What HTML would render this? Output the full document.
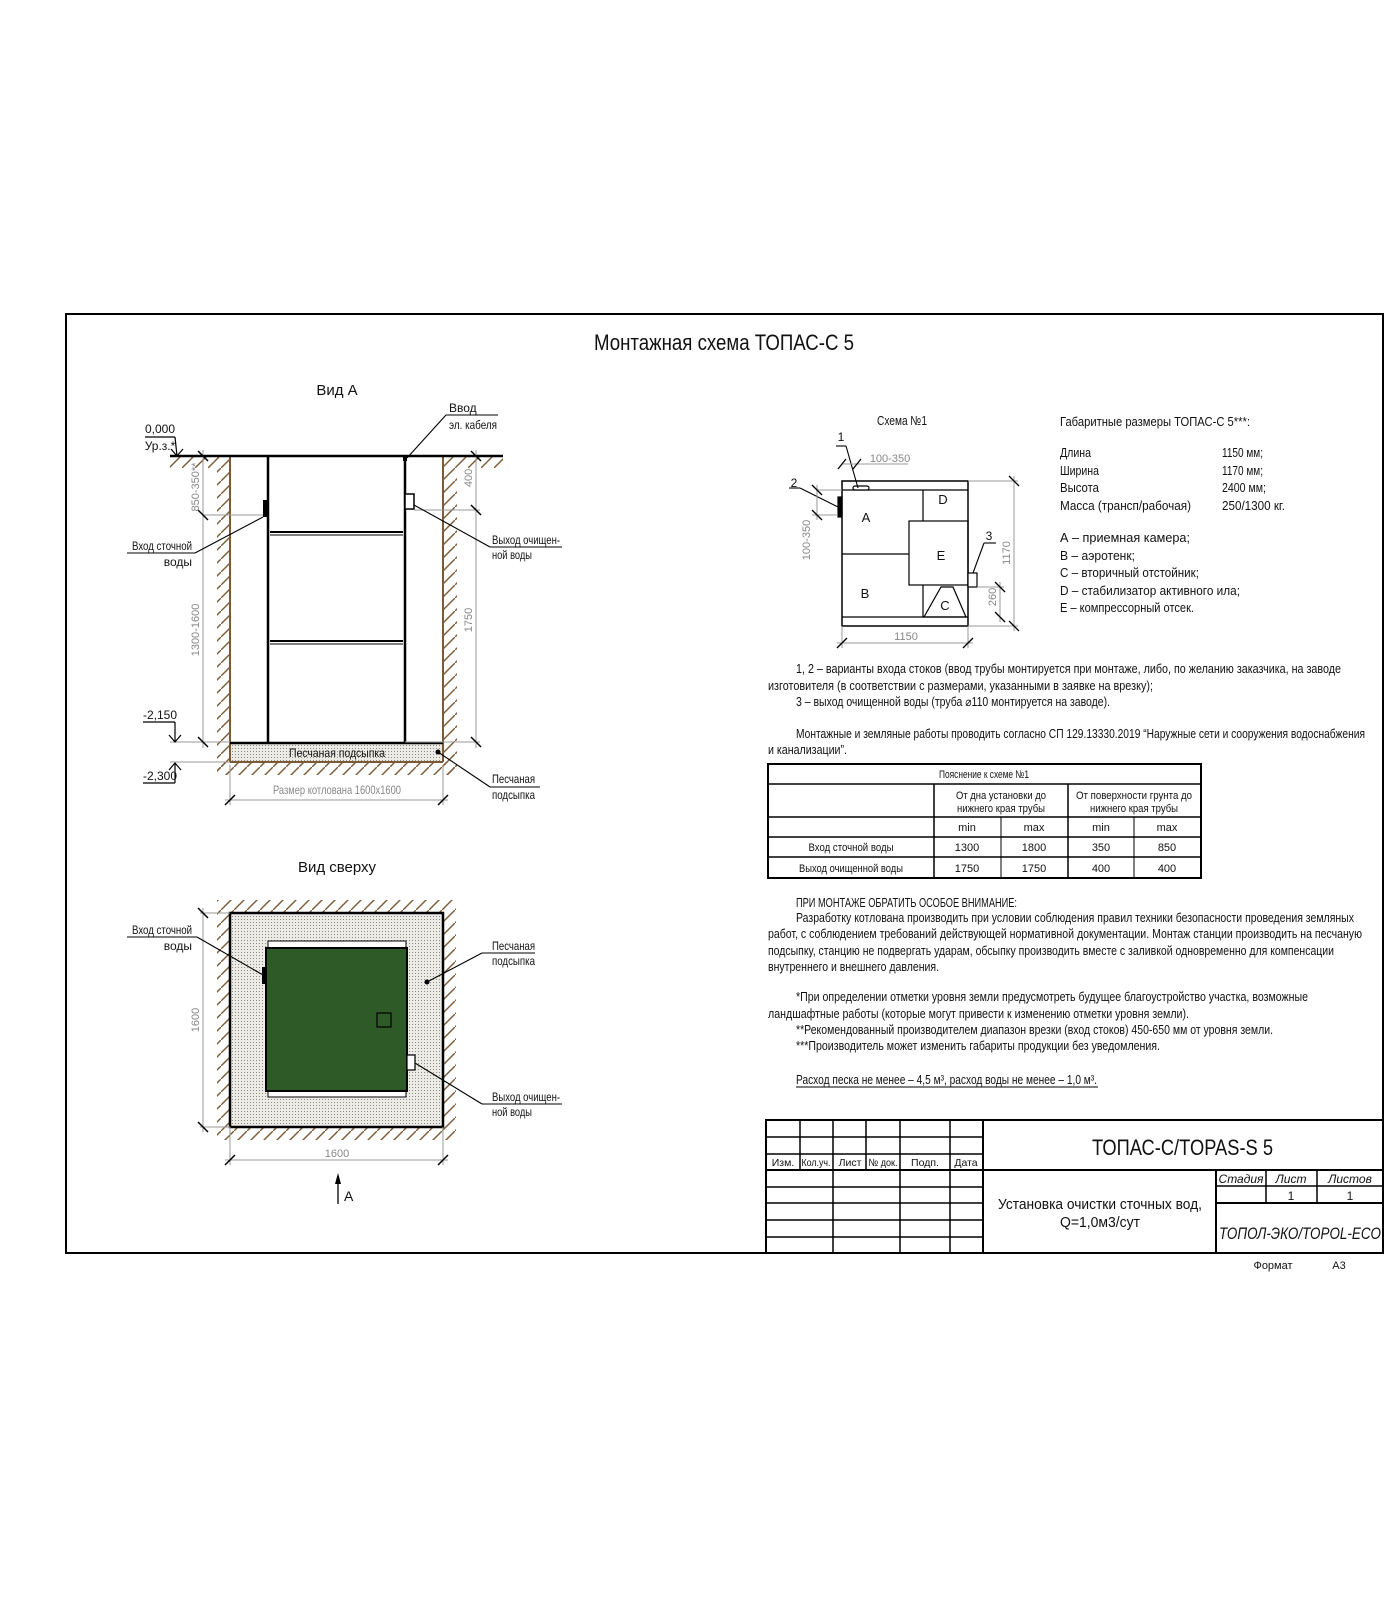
<!DOCTYPE html>
<html><head><meta charset="utf-8"><style>
html,body{margin:0;padding:0;background:#fff;}
svg{display:block;}
text{font-family:"Liberation Sans Narrow","Liberation Sans",sans-serif;fill:#111;}
</style></head><body>
<svg width="1400" height="1600" viewBox="0 0 1400 1600" xmlns="http://www.w3.org/2000/svg">
<defs>
<pattern id="h" patternUnits="userSpaceOnUse" width="13" height="13">
<line x1="-1" y1="14" x2="14" y2="-1" stroke="#7d5a36" stroke-width="1.4"/>
</pattern>
<pattern id="s" patternUnits="userSpaceOnUse" width="3" height="3">
<rect width="3" height="3" fill="#ecebe6"/><rect x="1" y="1" width="1" height="1" fill="#8a8a84"/>
</pattern>
</defs>
<!-- frame -->
<rect x="66" y="314" width="1317" height="939" fill="none" stroke="#000" stroke-width="2"/>
<text x="594" y="350" font-size="22" textLength="260" lengthAdjust="spacingAndGlyphs">Монтажная схема ТОПАС-С 5</text>

<!-- ВИД А -->
<text x="337" y="395" font-size="15" text-anchor="middle">Вид А</text>
<rect x="217" y="456" width="13" height="319" fill="url(#h)"/>
<rect x="443" y="456" width="14" height="319" fill="url(#h)"/>
<rect x="217" y="762" width="240" height="13" fill="url(#h)"/>
<rect x="170" y="456" width="47" height="12" fill="url(#h)"/>
<rect x="457" y="456" width="46" height="12" fill="url(#h)"/>
<rect x="230" y="743" width="213" height="19" fill="url(#s)"/>
<line x1="230" y1="456" x2="230" y2="762" stroke="#7d5a36" stroke-width="2"/>
<line x1="443" y1="456" x2="443" y2="762" stroke="#7d5a36" stroke-width="2"/>
<line x1="230" y1="762" x2="443" y2="762" stroke="#7d5a36" stroke-width="2"/>
<line x1="170" y1="456" x2="503" y2="456" stroke="#000" stroke-width="2.5"/>
<line x1="230" y1="743" x2="443" y2="743" stroke="#000" stroke-width="2.5"/>
<line x1="268" y1="456" x2="268" y2="743" stroke="#000" stroke-width="2.5"/>
<line x1="405" y1="456" x2="405" y2="743" stroke="#000" stroke-width="2.5"/>
<line x1="270" y1="532" x2="403" y2="532" stroke="#000" stroke-width="2"/>
<line x1="270" y1="535" x2="403" y2="535" stroke="#000" stroke-width="1"/>
<line x1="270" y1="641" x2="403" y2="641" stroke="#000" stroke-width="2"/>
<line x1="270" y1="644" x2="403" y2="644" stroke="#000" stroke-width="1"/>
<rect x="263" y="500" width="5" height="17" fill="#000"/>
<rect x="405" y="494" width="9" height="15" fill="#fff" stroke="#000" stroke-width="1.5"/>
<rect x="403" y="457" width="4" height="4" fill="#000"/>
<text x="337" y="757" font-size="12" text-anchor="middle" textLength="96" lengthAdjust="spacingAndGlyphs">Песчаная подсыпка</text>
<circle cx="438" cy="752" r="2.5" fill="#000"/>
<g stroke="#999" stroke-width="1" fill="none">
<line x1="203" y1="450" x2="203" y2="748"/>
<line x1="203" y1="515" x2="263" y2="515"/>
<line x1="476" y1="450" x2="476" y2="748"/>
<line x1="414" y1="510" x2="480" y2="510"/>
<line x1="405" y1="742" x2="480" y2="742"/>
<line x1="230" y1="765" x2="230" y2="805"/>
<line x1="443" y1="765" x2="443" y2="805"/>
<line x1="225" y1="800" x2="448" y2="800"/>
<line x1="170" y1="742" x2="230" y2="742"/>
<line x1="170" y1="762" x2="230" y2="762"/>
</g>
<g stroke="#000" stroke-width="1.5">
<line x1="198" y1="451" x2="208" y2="461"/><line x1="198" y1="510" x2="208" y2="520"/><line x1="198" y1="737" x2="208" y2="747"/>
<line x1="471" y1="451" x2="481" y2="461"/><line x1="471" y1="505" x2="481" y2="515"/><line x1="471" y1="737" x2="481" y2="747"/>
<line x1="225" y1="805" x2="235" y2="795"/><line x1="438" y1="805" x2="448" y2="795"/>
</g>
<text transform="translate(199,487) rotate(-90)" font-size="11" text-anchor="middle" style="fill:#888">850-350**</text>
<text transform="translate(199,630) rotate(-90)" font-size="11" text-anchor="middle" style="fill:#888">1300-1600</text>
<text transform="translate(472,478) rotate(-90)" font-size="11" text-anchor="middle" style="fill:#888">400</text>
<text transform="translate(472,620) rotate(-90)" font-size="11" text-anchor="middle" style="fill:#888">1750</text>
<text x="337" y="794" font-size="12" text-anchor="middle" style="fill:#888" textLength="128" lengthAdjust="spacingAndGlyphs">Размер котлована 1600х1600</text>
<g stroke="#000" stroke-width="1.2" fill="none">
<line x1="145" y1="437" x2="175" y2="437"/><line x1="175" y1="437" x2="177" y2="456"/>
<path d="M171 449 L177 456 L183 449"/>
<line x1="143" y1="722" x2="175" y2="722"/><line x1="175" y1="722" x2="175" y2="742"/>
<path d="M169 735 L175 742 L181 735"/>
<line x1="143" y1="783" x2="175" y2="783"/><line x1="175" y1="783" x2="175" y2="763"/>
<path d="M169 770 L175 763 L181 770"/>
</g>
<text x="160" y="433" font-size="12" text-anchor="middle">0,000</text>
<text x="160" y="450" font-size="12" text-anchor="middle">Ур.з.*</text>
<text x="160" y="719" font-size="12" text-anchor="middle">-2,150</text>
<text x="160" y="780" font-size="12" text-anchor="middle">-2,300</text>
<g stroke="#000" stroke-width="1.1" fill="none">
<line x1="446" y1="415" x2="498" y2="415"/><line x1="446" y1="415" x2="407" y2="458"/>
<line x1="127" y1="553" x2="195" y2="553"/><line x1="195" y1="553" x2="263" y2="517"/>
<line x1="490" y1="547" x2="562" y2="547"/><line x1="490" y1="547" x2="414" y2="505"/>
<line x1="490" y1="787" x2="540" y2="787"/><line x1="490" y1="787" x2="438" y2="752"/>
</g>
<text x="449" y="412" font-size="12">Ввод</text>
<text x="449" y="429" font-size="12" textLength="48" lengthAdjust="spacingAndGlyphs">эл. кабеля</text>
<text x="192" y="550" font-size="12" text-anchor="end" textLength="60" lengthAdjust="spacingAndGlyphs">Вход сточной</text>
<text x="192" y="566" font-size="12" text-anchor="end">воды</text>
<text x="492" y="544" font-size="12" textLength="68" lengthAdjust="spacingAndGlyphs">Выход очищен-</text>
<text x="492" y="559" font-size="12" textLength="40" lengthAdjust="spacingAndGlyphs">ной воды</text>
<text x="492" y="783" font-size="12" textLength="43" lengthAdjust="spacingAndGlyphs">Песчаная</text>
<text x="492" y="799" font-size="12" textLength="43" lengthAdjust="spacingAndGlyphs">подсыпка</text>

<!-- ВИД СВЕРХУ -->
<text x="337" y="872" font-size="15" text-anchor="middle">Вид сверху</text>
<rect x="217" y="900" width="239" height="240" fill="url(#h)"/>
<rect x="230" y="913" width="213" height="214" fill="url(#s)" stroke="#000" stroke-width="2.5"/>
<rect x="268" y="941" width="138" height="156" fill="#fff" stroke="#000" stroke-width="1"/>
<rect x="266" y="948" width="141" height="143" fill="#2e5a27" stroke="#000" stroke-width="2"/>
<rect x="377" y="1013" width="14" height="14" fill="none" stroke="#000" stroke-width="1.2"/>
<rect x="262" y="967" width="4" height="17" fill="#000"/>
<rect x="407" y="1055" width="8" height="15" fill="#fff" stroke="#000" stroke-width="1.2"/>
<circle cx="427" cy="982" r="2.5" fill="#000"/>
<g stroke="#999" stroke-width="1" fill="none">
<line x1="203" y1="908" x2="203" y2="1132"/>
<line x1="200" y1="913" x2="230" y2="913"/><line x1="200" y1="1127" x2="230" y2="1127"/>
<line x1="230" y1="1127" x2="230" y2="1165"/><line x1="443" y1="1127" x2="443" y2="1165"/>
<line x1="225" y1="1160" x2="448" y2="1160"/>
</g>
<g stroke="#000" stroke-width="1.5">
<line x1="198" y1="908" x2="208" y2="918"/><line x1="198" y1="1122" x2="208" y2="1132"/>
<line x1="225" y1="1165" x2="235" y2="1155"/><line x1="438" y1="1165" x2="448" y2="1155"/>
</g>
<text transform="translate(199,1020) rotate(-90)" font-size="11" text-anchor="middle" style="fill:#888">1600</text>
<text x="337" y="1157" font-size="11" text-anchor="middle" style="fill:#888">1600</text>
<line x1="338" y1="1204" x2="338" y2="1176" stroke="#000" stroke-width="1.3"/>
<path d="M335 1184 L338 1173 L341 1184 Z" fill="#000"/>
<text x="344" y="1201" font-size="14">А</text>
<g stroke="#000" stroke-width="1.1" fill="none">
<line x1="127" y1="937" x2="197" y2="937"/><line x1="197" y1="937" x2="263" y2="975"/>
<line x1="482" y1="953" x2="535" y2="953"/><line x1="482" y1="953" x2="427" y2="982"/>
<line x1="482" y1="1104" x2="562" y2="1104"/><line x1="482" y1="1104" x2="415" y2="1063"/>
</g>
<text x="192" y="934" font-size="12" text-anchor="end" textLength="60" lengthAdjust="spacingAndGlyphs">Вход сточной</text>
<text x="192" y="950" font-size="12" text-anchor="end">воды</text>
<text x="492" y="950" font-size="12" textLength="43" lengthAdjust="spacingAndGlyphs">Песчаная</text>
<text x="492" y="965" font-size="12" textLength="43" lengthAdjust="spacingAndGlyphs">подсыпка</text>
<text x="492" y="1101" font-size="12" textLength="68" lengthAdjust="spacingAndGlyphs">Выход очищен-</text>
<text x="492" y="1116" font-size="12" textLength="40" lengthAdjust="spacingAndGlyphs">ной воды</text>

<!-- СХЕМА 1 -->
<text x="902" y="425" font-size="13" text-anchor="middle" textLength="50" lengthAdjust="spacingAndGlyphs">Схема №1</text>
<rect x="842" y="481" width="126" height="145" fill="#fff" stroke="#000" stroke-width="1.5"/>
<g stroke="#000" stroke-width="1.2" fill="none">
<line x1="842" y1="490" x2="968" y2="490"/>
<line x1="842" y1="617" x2="968" y2="617"/>
<line x1="923" y1="490" x2="923" y2="521"/>
<rect x="909" y="521" width="59" height="64"/>
<line x1="842" y1="554" x2="909" y2="554"/>
<line x1="923" y1="585" x2="923" y2="617"/>
<path d="M941 587 L953 587 L966 617 L924 617 Z"/>
<rect x="968" y="573" width="9" height="14" fill="#fff"/>
<rect x="853" y="486" width="16" height="4" rx="2" fill="#fff"/>
<rect x="838" y="497" width="4" height="20" fill="#000"/>
</g>
<text x="866" y="522" font-size="13" text-anchor="middle">A</text>
<text x="943" y="504" font-size="13" text-anchor="middle">D</text>
<text x="941" y="560" font-size="13" text-anchor="middle">E</text>
<text x="865" y="598" font-size="13" text-anchor="middle">B</text>
<text x="945" y="610" font-size="13" text-anchor="middle">C</text>
<g stroke="#000" stroke-width="1.1" fill="none">
<line x1="836" y1="446" x2="846" y2="446"/><line x1="846" y1="446" x2="858" y2="488"/>
<line x1="789" y1="488" x2="800" y2="488"/><line x1="800" y1="488" x2="838" y2="507"/>
<line x1="984" y1="543" x2="996" y2="543"/><line x1="984" y1="543" x2="973" y2="573"/>
</g>
<text x="841" y="441" font-size="12" text-anchor="middle">1</text>
<text x="794" y="487" font-size="12" text-anchor="middle">2</text>
<text x="989" y="540" font-size="12" text-anchor="middle">3</text>
<g stroke="#999" stroke-width="1" fill="none">
<line x1="842" y1="464" x2="908" y2="464"/>
<line x1="817" y1="490" x2="842" y2="490"/><line x1="812" y1="515" x2="838" y2="515"/>
<line x1="817" y1="485" x2="817" y2="520"/>
<line x1="968" y1="481" x2="1018" y2="481"/><line x1="968" y1="626" x2="1018" y2="626"/>
<line x1="1014" y1="476" x2="1014" y2="631"/>
<line x1="977" y1="587" x2="1004" y2="587"/><line x1="1000" y1="582" x2="1000" y2="622"/>
<line x1="842" y1="626" x2="842" y2="648"/><line x1="968" y1="626" x2="968" y2="648"/>
<line x1="837" y1="643" x2="973" y2="643"/>
</g>
<g stroke="#000" stroke-width="1.3">
<line x1="838" y1="469" x2="846" y2="459"/><line x1="853" y1="469" x2="861" y2="459"/>
<line x1="812" y1="485" x2="822" y2="495"/><line x1="812" y1="510" x2="822" y2="520"/>
<line x1="1009" y1="476" x2="1019" y2="486"/><line x1="1009" y1="621" x2="1019" y2="631"/>
<line x1="995" y1="582" x2="1005" y2="592"/><line x1="995" y1="612" x2="1005" y2="622"/>
<line x1="837" y1="648" x2="847" y2="638"/><line x1="963" y1="648" x2="973" y2="638"/>
</g>
<text x="890" y="462" font-size="11" text-anchor="middle" style="fill:#888">100-350</text>
<text transform="translate(810,540) rotate(-90)" font-size="11" text-anchor="middle" style="fill:#888">100-350</text>
<text transform="translate(1010,553) rotate(-90)" font-size="11" text-anchor="middle" style="fill:#888">1170</text>
<text transform="translate(996,597) rotate(-90)" font-size="11" text-anchor="middle" style="fill:#888">260</text>
<text x="906" y="640" font-size="11" text-anchor="middle" style="fill:#888">1150</text>

<g font-size="13">
<text x="1060" y="426" textLength="190" lengthAdjust="spacingAndGlyphs">Габаритные размеры ТОПАС-С 5***:</text>
<text x="1060" y="457" textLength="31" lengthAdjust="spacingAndGlyphs">Длина</text><text x="1222" y="457" textLength="41" lengthAdjust="spacingAndGlyphs">1150 мм;</text>
<text x="1060" y="475" textLength="39" lengthAdjust="spacingAndGlyphs">Ширина</text><text x="1222" y="475" textLength="41" lengthAdjust="spacingAndGlyphs">1170 мм;</text>
<text x="1060" y="492" textLength="39" lengthAdjust="spacingAndGlyphs">Высота</text><text x="1222" y="492" textLength="44" lengthAdjust="spacingAndGlyphs">2400 мм;</text>
<text x="1060" y="510" textLength="131" lengthAdjust="spacingAndGlyphs">Масса (трансп/рабочая)</text><text x="1222" y="510" textLength="63" lengthAdjust="spacingAndGlyphs">250/1300 кг.</text>
<text x="1060" y="542" textLength="130" lengthAdjust="spacingAndGlyphs">А – приемная камера;</text>
<text x="1060" y="560" textLength="75" lengthAdjust="spacingAndGlyphs">В – аэротенк;</text>
<text x="1060" y="577" textLength="139" lengthAdjust="spacingAndGlyphs">С – вторичный отстойник;</text>
<text x="1060" y="595" textLength="180" lengthAdjust="spacingAndGlyphs">D – стабилизатор активного ила;</text>
<text x="1060" y="612" textLength="134" lengthAdjust="spacingAndGlyphs">Е – компрессорный отсек.</text>
</g>

<g font-size="12.5">
<text x="796" y="673" textLength="545" lengthAdjust="spacingAndGlyphs">1, 2 – варианты входа  стоков (ввод трубы монтируется при монтаже, либо, по желанию заказчика, на заводе</text>
<text x="768" y="690" textLength="385" lengthAdjust="spacingAndGlyphs">изготовителя (в соответствии с размерами, указанными в заявке на врезку);</text>
<text x="796" y="706" textLength="314" lengthAdjust="spacingAndGlyphs">3 – выход очищенной воды (труба ⌀110 монтируется на заводе).</text>
<text x="796" y="738" textLength="569" lengthAdjust="spacingAndGlyphs">Монтажные и земляные работы проводить согласно СП 129.13330.2019 “Наружные сети и сооружения водоснабжения</text>
<text x="768" y="754" textLength="79" lengthAdjust="spacingAndGlyphs">и канализации”.</text>
<text x="796" y="907" textLength="221" lengthAdjust="spacingAndGlyphs">ПРИ МОНТАЖЕ ОБРАТИТЬ ОСОБОЕ ВНИМАНИЕ:</text>
<text x="796" y="922" textLength="558" lengthAdjust="spacingAndGlyphs">Разработку котлована производить при условии соблюдения правил техники безопасности проведения земляных</text>
<text x="768" y="938" textLength="594" lengthAdjust="spacingAndGlyphs">работ, с соблюдением требований действующей нормативной документации. Монтаж станции производить на песчаную</text>
<text x="768" y="955" textLength="566" lengthAdjust="spacingAndGlyphs">подсыпку, станцию не подвергать ударам, обсыпку производить вместе с заливкой одновременно для компенсации</text>
<text x="768" y="971" textLength="171" lengthAdjust="spacingAndGlyphs">внутреннего и внешнего давления.</text>
<text x="796" y="1001" textLength="512" lengthAdjust="spacingAndGlyphs">*При определении отметки уровня земли предусмотреть будущее благоустройство участка, возможные</text>
<text x="768" y="1018" textLength="421" lengthAdjust="spacingAndGlyphs">ландшафтные работы (которые могут привести к изменению отметки уровня земли).</text>
<text x="796" y="1034" textLength="477" lengthAdjust="spacingAndGlyphs">**Рекомендованный производителем диапазон врезки (вход стоков) 450-650 мм от уровня земли.</text>
<text x="796" y="1050" textLength="364" lengthAdjust="spacingAndGlyphs">***Производитель может изменить габариты продукции без уведомления.</text>
<text x="796" y="1084" textLength="301" lengthAdjust="spacingAndGlyphs">Расход песка не менее – 4,5 м³, расход воды не менее – 1,0 м³.</text>
</g>
<line x1="796" y1="1087" x2="1098" y2="1087" stroke="#000" stroke-width="1"/>

<g stroke="#000" fill="none">
<rect x="768" y="764" width="433" height="114" stroke-width="2"/>
<line x1="768" y1="784" x2="1201" y2="784" stroke-width="1.5"/>
<line x1="768" y1="817" x2="1201" y2="817" stroke-width="1.5"/>
<line x1="768" y1="837" x2="1201" y2="837" stroke-width="1.5"/>
<line x1="768" y1="857" x2="1201" y2="857" stroke-width="1.5"/>
<line x1="934" y1="784" x2="934" y2="878" stroke-width="1.5"/>
<line x1="1068" y1="784" x2="1068" y2="878" stroke-width="1.5"/>
<line x1="1001" y1="817" x2="1001" y2="878" stroke-width="1"/>
<line x1="1134" y1="817" x2="1134" y2="878" stroke-width="1"/>
</g>
<g font-size="11" text-anchor="middle">
<text x="984" y="778" textLength="90" lengthAdjust="spacingAndGlyphs">Пояснение к схеме №1</text>
<text x="1001" y="799" textLength="90" lengthAdjust="spacingAndGlyphs">От дна установки до</text>
<text x="1001" y="812" textLength="88" lengthAdjust="spacingAndGlyphs">нижнего края трубы</text>
<text x="1134" y="799" textLength="116" lengthAdjust="spacingAndGlyphs">От поверхности грунта до</text>
<text x="1134" y="812" textLength="88" lengthAdjust="spacingAndGlyphs">нижнего края трубы</text>
<text x="967" y="831">min</text><text x="1034" y="831">max</text><text x="1101" y="831">min</text><text x="1167" y="831">max</text>
<text x="851" y="851" textLength="85" lengthAdjust="spacingAndGlyphs">Вход сточной воды</text>
<text x="967" y="851">1300</text><text x="1034" y="851">1800</text><text x="1101" y="851">350</text><text x="1167" y="851">850</text>
<text x="851" y="872" textLength="104" lengthAdjust="spacingAndGlyphs">Выход очищенной воды</text>
<text x="967" y="872">1750</text><text x="1034" y="872">1750</text><text x="1101" y="872">400</text><text x="1167" y="872">400</text>
</g>

<g stroke="#000" fill="none">
<rect x="766" y="1120" width="617" height="133" stroke-width="2"/>
<line x1="983" y1="1120" x2="983" y2="1253" stroke-width="2"/>
<line x1="983" y1="1170" x2="1383" y2="1170" stroke-width="2"/>
<line x1="1216" y1="1170" x2="1216" y2="1253" stroke-width="2"/>
<line x1="1216" y1="1186" x2="1383" y2="1186" stroke-width="1.5"/>
<line x1="1216" y1="1203" x2="1383" y2="1203" stroke-width="2"/>
<line x1="1266" y1="1170" x2="1266" y2="1203" stroke-width="1.5"/>
<line x1="1317" y1="1170" x2="1317" y2="1203" stroke-width="1.5"/>
<line x1="766" y1="1137" x2="983" y2="1137" stroke-width="1.5"/>
<line x1="766" y1="1154" x2="983" y2="1154" stroke-width="1.5"/>
<line x1="766" y1="1170" x2="983" y2="1170" stroke-width="2"/>
<line x1="766" y1="1187" x2="983" y2="1187" stroke-width="1.5"/>
<line x1="766" y1="1203" x2="983" y2="1203" stroke-width="1.5"/>
<line x1="766" y1="1220" x2="983" y2="1220" stroke-width="1.5"/>
<line x1="766" y1="1237" x2="983" y2="1237" stroke-width="1.5"/>
<line x1="800" y1="1120" x2="800" y2="1170" stroke-width="1.5"/>
<line x1="833" y1="1120" x2="833" y2="1253" stroke-width="1.5"/>
<line x1="866" y1="1120" x2="866" y2="1170" stroke-width="1.5"/>
<line x1="900" y1="1120" x2="900" y2="1253" stroke-width="1.5"/>
<line x1="950" y1="1120" x2="950" y2="1253" stroke-width="1.5"/>
</g>
<g font-size="10.5" text-anchor="middle">
<text x="783" y="1166">Изм.</text><text x="816" y="1166" textLength="29" lengthAdjust="spacingAndGlyphs">Кол.уч.</text><text x="850" y="1166">Лист</text><text x="883" y="1166" textLength="29" lengthAdjust="spacingAndGlyphs">№ док.</text><text x="925" y="1166">Подп.</text><text x="966" y="1166">Дата</text>
</g>
<text x="1092" y="1155" font-size="22" textLength="181" lengthAdjust="spacingAndGlyphs">ТОПАС-С/TOPAS-S 5</text>
<text x="1100" y="1209" font-size="14.5" text-anchor="middle" textLength="204" lengthAdjust="spacingAndGlyphs">Установка очистки сточных вод,</text>
<text x="1100" y="1227" font-size="14.5" text-anchor="middle" textLength="80" lengthAdjust="spacingAndGlyphs">Q=1,0м3/сут</text>
<g font-size="12" text-anchor="middle" font-style="italic">
<text x="1241" y="1183">Стадия</text><text x="1291" y="1183">Лист</text><text x="1350" y="1183">Листов</text>
</g>
<text x="1291" y="1200" font-size="12" text-anchor="middle">1</text>
<text x="1350" y="1200" font-size="12" text-anchor="middle">1</text>
<text x="1300" y="1239" font-size="16.5" text-anchor="middle" font-style="italic" textLength="162" lengthAdjust="spacingAndGlyphs">ТОПОЛ-ЭКО/TOPOL-ECO</text>
<text x="1273" y="1269" font-size="11" text-anchor="middle">Формат</text>
<text x="1339" y="1269" font-size="11" text-anchor="middle">А3</text>
</svg>
</body></html>
